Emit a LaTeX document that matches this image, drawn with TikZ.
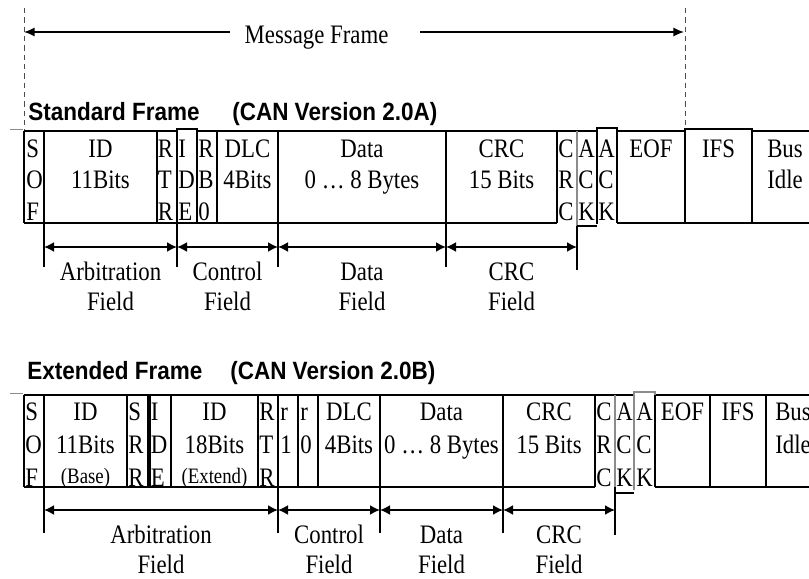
\documentclass[tikz,border=0pt]{standalone}
\usepackage{fontspec}
\usetikzlibrary{arrows.meta}
\newfontfamily\serifc[FakeStretch=0.855]{Liberation Serif}
\newfontfamily\sansc[FakeStretch=0.9]{Liberation Sans}
\newcommand\stk[6]{\foreach \t [count=\i] in {#6}{\node[#2] (#1\i) at ({#3},{#4+(\i-1)*(#5)}) {\t};}}
\tikzset{
  lab/.style={inner sep=0pt, anchor=base, font=\serifc\fontsize{20}{24}\selectfont},
  labl/.style={lab, anchor=base west},
  smalllab/.style={lab, font=\serifc\fontsize{16.5}{19}\selectfont},
  titlelab/.style={inner sep=0pt, anchor=base west, font=\sansc\bfseries\fontsize{18.75}{22}\selectfont},
  frame/.style={draw=black, line width=0.9pt},
  greyframe/.style={draw=black!45, line width=0.9pt},
  dashline/.style={draw=black!70, line width=0.6pt, dash pattern=on 4pt off 3pt},
  farrow/.style={line width=1.3pt, {Latex[length=7.5pt,width=7.5pt]}-{Latex[length=7.5pt,width=7.5pt]}},
  marrow/.style={line width=1.2pt, -{Latex[length=8pt,width=7pt]}},
}
\begin{document}
\begin{tikzpicture}[x=0.75pt,y=-0.75pt]
\path[use as bounding box, clip] (0,0) rectangle (809,578);
\fill[white] (0,0) rectangle (809,578);

% ---------- Message frame ----------
\coordinate (dLtop) at (24,8);  \coordinate (dLbot) at (24,131);
\coordinate (dRtop) at (685,8); \coordinate (dRbot) at (685,129);
\draw[dashline] (dLtop) -- (dLbot);
\draw[dashline] (dRtop) -- (dRbot);
\node[lab] (mf) at (316.5,43) {Message Frame};
\coordinate (mfL) at (24,32);  \coordinate (mfA) at (230,32);
\coordinate (mfR) at (684,32); \coordinate (mfB) at (420,32);
\draw[marrow] (mfA) -- (mfL);
\draw[marrow] (mfB) -- (mfR);

% ---------- Standard frame ----------
\node[titlelab] (stdt) at (28,120) {Standard Frame};
\node[titlelab] (stdv) at (232,120) {(CAN Version 2.0A)};
\draw[greyframe, line width=0.6pt] (10,129) -- (23,129);
\draw[frame] (24,131) -- (597,131) (617,131) -- (809,131);
\draw[frame] (24,223) -- (557,223) (617,223) -- (809,223);
\foreach \x in {24,44,157,217,278,446,557,617,752} \draw[frame] (\x,131) -- (\x,223);
\draw[frame, fill=white] (177,129) rectangle (197,223);
\draw[frame, fill=white] (685,129) rectangle (752,223);
\draw[greyframe] (577,131) -- (577,226);
\draw[frame] (577,226) -- (597,226);
\draw[frame] (597,224) -- (597,128) -- (617,128) -- (617,223);
% ticks
\foreach \x in {44,177,278,446} \draw[frame] (\x,223) -- (\x,267);
\draw[frame] (577,226) -- (577,270);
% texts
\stk{sSOF}{labl}{26}{157}{31.5}{S,O,F}
\stk{sID}{lab}{100.5}{157}{31.5}{ID,11Bits}
\stk{sRTR}{labl}{157.5}{157}{31.5}{R,T,R}
\stk{sIDE}{labl}{178}{157}{31.5}{I,D,E}
\stk{sRB}{labl}{198}{157}{31.5}{R,B,0}
\stk{sDLC}{lab}{247.5}{157}{31.5}{DLC,4Bits}
\stk{sDat}{lab}{362}{157}{31.5}{Data,0 … 8 Bytes}
\stk{sCRC}{lab}{501.5}{157}{31.5}{CRC,15 Bits}
\stk{sCD}{labl}{558}{157}{31.5}{C,R,C}
\stk{sACK}{labl}{578}{157}{31.5}{A,C,K}
\stk{sAD}{labl}{598}{157}{31.5}{A,C,K}
\stk{sEOF}{lab}{651}{157}{31.5}{EOF}
\stk{sIFS}{lab}{718.5}{157}{31.5}{IFS}
\stk{sBus}{labl}{767}{157}{31.5}{Bus,Idle}
% field arrows
\coordinate (sa0) at (44,247);  \coordinate (sa1) at (177,247);
\coordinate (sa2) at (278,247); \coordinate (sa3) at (446,247);
\coordinate (sa4) at (577,247);
\draw[farrow] (sa0) -- (sa1);
\draw[farrow] (sa1) -- (sa2);
\draw[farrow] (sa2) -- (sa3);
\draw[farrow] (sa3) -- (sa4);
\stk{sfArb}{lab}{110.5}{280}{30.5}{Arbitration,Field}
\stk{sfCtl}{lab}{227.5}{280}{30.5}{Control,Field}
\stk{sfDat}{lab}{362}{280}{30.5}{Data,Field}
\stk{sfCRC}{lab}{511.5}{280}{30.5}{CRC,Field}

% ---------- Extended frame ----------
\node[titlelab] (extt) at (27,379) {Extended Frame};
\node[titlelab] (extv) at (230,379) {(CAN Version 2.0B)};
\draw[greyframe, line width=0.6pt] (10,393) -- (23,393);
\draw[frame] (24,395) -- (633,395) (655,395) -- (809,395);
\draw[frame] (24,487) -- (595,487) (655,487) -- (809,487);
\foreach \x in {24,44,127,148,150,171,258,278,298,318,380,503,595,655,710,766} \draw[frame] (\x,395) -- (\x,487);
\draw[greyframe] (615,395) -- (615,487);
\draw[frame] (615,493) -- (634,493);
\draw[greyframe] (634,490) -- (634,392) -- (655,392) -- (655,395);
% ticks
\foreach \x in {44,278,380,503} \draw[frame] (\x,487) -- (\x,533);
\draw[frame] (615,487) -- (615,535);
% texts
\stk{eSOF}{labl}{25}{420}{33}{S,O,F}
\stk{eID}{lab}{85.5}{420}{33}{ID,11Bits}
\node[smalllab] (eBase) at (85.5,483) {(Base)};
\stk{eSRR}{labl}{128}{420}{33}{S,R,R}
\stk{eIDE}{labl}{150.5}{420}{33}{I,D,E}
\stk{eIDx}{lab}{214.5}{420}{33}{ID,18Bits}
\node[smalllab] (eExt) at (214.5,483) {(Extend)};
\stk{eRTR}{labl}{259}{420}{33}{R,T,R}
\stk{eRa}{labl}{280}{420}{33}{r,1}
\stk{eRb}{labl}{300}{420}{33}{r,0}
\stk{eDLC}{lab}{349}{420}{33}{DLC,4Bits}
\stk{eDat}{lab}{441.5}{420}{33}{Data,0 … 8 Bytes}
\stk{eCRC}{lab}{549}{420}{33}{CRC,15 Bits}
\stk{eCD}{labl}{596}{420}{33}{C,R,C}
\stk{eACK}{labl}{616}{420}{33}{A,C,K}
\stk{eAD}{labl}{636}{420}{33}{A,C,K}
\stk{eEOF}{lab}{682.5}{420}{33}{EOF}
\stk{eIFS}{lab}{738}{420}{33}{IFS}
\stk{eBus}{labl}{775}{420}{33}{Bus,Idle}
% field arrows
\coordinate (ea0) at (44,510);  \coordinate (ea1) at (278,510);
\coordinate (ea2) at (380,510); \coordinate (ea3) at (503,510);
\coordinate (ea4) at (615,510);
\draw[farrow] (ea0) -- (ea1);
\draw[farrow] (ea1) -- (ea2);
\draw[farrow] (ea2) -- (ea3);
\draw[farrow] (ea3) -- (ea4);
\stk{efArb}{lab}{161}{543}{30.5}{Arbitration,Field}
\stk{efCtl}{lab}{329}{543}{30.5}{Control,Field}
\stk{efDat}{lab}{441.5}{543}{30.5}{Data,Field}
\stk{efCRC}{lab}{559}{543}{30.5}{CRC,Field}
\end{tikzpicture}
\end{document}
